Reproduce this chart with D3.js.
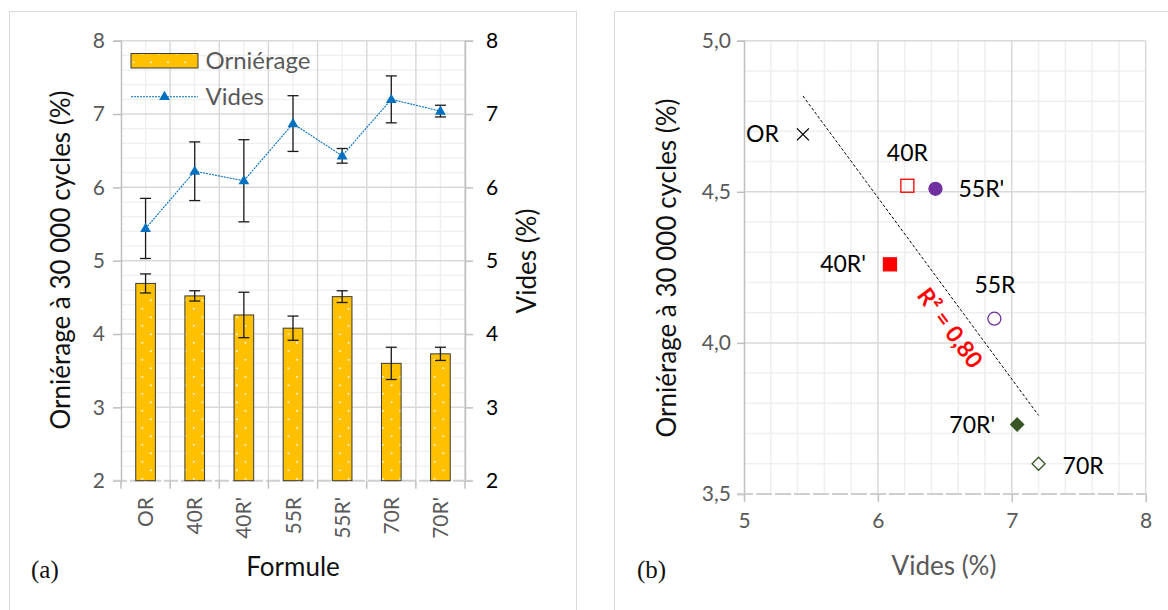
<!DOCTYPE html>
<html><head><meta charset="utf-8">
<script src="https://cdn.jsdelivr.net/npm/d3@7"></script>
<style>body{margin:0;background:#fff;}svg{display:block;font-family:Lato,'Open Sans',sans-serif;}</style>
</head><body>
<svg id="c" width="1168" height="610"></svg>
<script>
// ---------- data ----------
const categories = ["OR","40R","40R'","55R","55R'","70R","70R'"];
const ornierage  = [4.69, 4.52, 4.26, 4.08, 4.51, 3.60, 3.73];
const ornErr     = [0.13, 0.07, 0.31, 0.165, 0.08, 0.22, 0.09];
const vides      = [5.44, 6.22, 6.09, 6.87, 6.43, 7.20, 7.04];
const videsErr   = [0.41, 0.40, 0.56, 0.38, 0.10, 0.32, 0.08];
const leftTicks  = [2,3,4,5,6,7,8];
const scatTicksX = [5,6,7,8];
const scatTicksY = [3.5,4.0,4.5,5.0];
const r2Label    = "R² = 0,80";

// ---------- layout/style config ----------
const svg = d3.select("#c");
const GRID_MAJ = "#d9d9d9", GRID_MIN = "#efefef", AX = "#bfbfbf", GRAY = "#595959";
const TICK_FS = "21px", TITLE_FS = "26px";

// panel frames
svg.append("rect").attr("x",9.5).attr("y",11.5).attr("width",567).attr("height",620)
  .attr("fill","none").attr("stroke",GRID_MAJ).attr("stroke-width",1);
svg.append("rect").attr("x",614.5).attr("y",11.5).attr("width",600).attr("height",620)
  .attr("fill","none").attr("stroke",GRID_MAJ).attr("stroke-width",1);

// pattern
const defs = svg.append("defs");
const pat = defs.append("pattern").attr("id","dots").attr("patternUnits","userSpaceOnUse")
  .attr("width",17.2).attr("height",17);
pat.append("rect").attr("width",17.2).attr("height",17).attr("fill","#FFC000");
pat.append("rect").attr("x",3.8).attr("y",2).attr("width",1.6).attr("height",1.6).attr("fill","#fff");
pat.append("rect").attr("x",12.4).attr("y",10.5).attr("width",1.6).attr("height",1.6).attr("fill","#fff");

// ================= LEFT CHART =================
const x = d3.scaleBand().domain(categories).range([121,465]).paddingInner(0).paddingOuter(0);
const yL = d3.scaleLinear().domain([2,8]).range([480.7,40.7]);
const yR = d3.scaleLinear().domain([2,8]).range([480.7,40.7]);
const g1 = svg.append("g");

g1.append("g").selectAll("line").data(d3.range(2,8.001,0.2).filter(v=>Math.abs(v-Math.round(v))>1e-6))
  .join("line").attr("x1",121).attr("x2",465).attr("y1",d=>yL(d)).attr("y2",d=>yL(d))
  .attr("stroke",GRID_MIN).attr("stroke-width",1.3);
g1.append("g").selectAll("line").data(categories).join("line")
  .attr("x1",d=>x(d)+x.bandwidth()/2).attr("x2",d=>x(d)+x.bandwidth()/2)
  .attr("y1",yL(8)).attr("y2",yL(2)).attr("stroke",GRID_MIN).attr("stroke-width",1.3);
g1.append("g").selectAll("line").data(leftTicks.slice(1)).join("line")
  .attr("x1",121).attr("x2",465).attr("y1",d=>yL(d)).attr("y2",d=>yL(d))
  .attr("stroke",GRID_MAJ).attr("stroke-width",1.5);
const bounds = categories.map(c=>x(c)).concat([x.range()[1]]);
g1.append("g").selectAll("line").data(bounds.slice(1)).join("line")
  .attr("x1",d=>d).attr("x2",d=>d).attr("y1",yL(8)).attr("y2",yL(2))
  .attr("stroke",GRID_MAJ).attr("stroke-width",1.5);

const axL = g1.append("g").attr("transform","translate(121,0)")
  .call(d3.axisLeft(yL).tickValues(leftTicks).tickSize(8).tickPadding(8).tickFormat(d3.format("d")));
axL.select(".domain").attr("stroke",AX).attr("stroke-width",1.5);
axL.selectAll(".tick line").attr("stroke",AX).attr("stroke-width",1.5);
axL.selectAll("text").attr("fill",GRAY).style("font-size",TICK_FS).style("font-family","Lato");
const axR = g1.append("g").attr("transform","translate(465,0)")
  .call(d3.axisRight(yR).tickValues(leftTicks).tickSize(8).tickPadding(13).tickFormat(d3.format("d")));
axR.select(".domain").attr("stroke",AX).attr("stroke-width",1.5);
axR.selectAll(".tick line").attr("stroke",AX).attr("stroke-width",1.5);
axR.selectAll("text").attr("fill","#000").style("font-size",TICK_FS).style("font-family","Lato");

g1.append("line").attr("x1",113).attr("x2",473).attr("y1",yL(2)).attr("y2",yL(2))
  .attr("stroke","#cfcfcf").attr("stroke-width",2).attr("stroke-dasharray","14,3");
g1.append("g").selectAll("line").data(bounds).join("line")
  .attr("x1",d=>d).attr("x2",d=>d).attr("y1",yL(2)).attr("y2",yL(2)+8)
  .attr("stroke",AX).attr("stroke-width",1.5);
g1.append("g").selectAll("text").data(categories).join("text")
  .attr("transform",d=>`translate(${x(d)+x.bandwidth()/2},497) rotate(-90)`)
  .attr("text-anchor","end").attr("dy","0.36em").attr("fill",GRAY)
  .style("font-size",TICK_FS).text(d=>d);

const bw = x.bandwidth()*0.4;
g1.append("g").selectAll("rect").data(categories).join("rect")
  .attr("x",d=>x(d)+x.bandwidth()/2-bw/2).attr("width",bw)
  .attr("y",(d,i)=>yL(ornierage[i])).attr("height",(d,i)=>yL(2)-yL(ornierage[i]))
  .attr("fill","url(#dots)").attr("stroke","#3a3a3a").attr("stroke-width",1);
function errBars(g, vals, errs, yS){
  const cap = 5.5;
  const eg = g.append("g").attr("stroke","#1a1a1a").attr("stroke-width",1.3);
  categories.forEach((c,i)=>{
    const cx = x(c)+x.bandwidth()/2;
    eg.append("line").attr("x1",cx).attr("x2",cx).attr("y1",yS(vals[i]+errs[i])).attr("y2",yS(vals[i]-errs[i]));
    eg.append("line").attr("x1",cx-cap).attr("x2",cx+cap).attr("y1",yS(vals[i]+errs[i])).attr("y2",yS(vals[i]+errs[i]));
    eg.append("line").attr("x1",cx-cap).attr("x2",cx+cap).attr("y1",yS(vals[i]-errs[i])).attr("y2",yS(vals[i]-errs[i]));
  });
}
errBars(g1, ornierage, ornErr, yL);
errBars(g1, vides, videsErr, yR);

const lineGen = d3.line().x((d,i)=>x(categories[i])+x.bandwidth()/2).y(d=>yR(d));
g1.append("path").datum(vides).attr("d",lineGen).attr("fill","none")
  .attr("stroke","#0070C0").attr("stroke-width",1.1).attr("stroke-dasharray","2,1");
const tri = d3.symbol().type(d3.symbolTriangle).size(50);
g1.append("g").selectAll("path").data(vides).join("path")
  .attr("transform",(d,i)=>`translate(${x(categories[i])+x.bandwidth()/2},${yR(d)+0.5})`)
  .attr("d",tri).attr("fill","#0070C0");

// legend
g1.append("rect").attr("x",131).attr("y",53.5).attr("width",67).attr("height",14.5)
  .attr("fill","url(#dots)").attr("stroke","#3a3a3a").attr("stroke-width",1);
g1.append("text").attr("x",205.5).attr("y",68.5).attr("fill",GRAY).style("font-size","24px").text("Orniérage");
g1.append("line").attr("x1",131).attr("x2",198).attr("y1",96.7).attr("y2",96.7)
  .attr("stroke","#0070C0").attr("stroke-width",1.1).attr("stroke-dasharray","2,1");
g1.append("path").attr("transform","translate(164.5,97)").attr("d",tri).attr("fill","#0070C0");
g1.append("text").attr("x",205.5).attr("y",105).attr("fill",GRAY).style("font-size","24px").text("Vides");

// titles
g1.append("text").attr("transform","translate(61,260) rotate(-90)").attr("text-anchor","middle")
  .attr("dy","0.35em").attr("fill","#111").style("font-size",TITLE_FS).text("Orniérage à 30 000 cycles (%)");
g1.append("text").attr("transform","translate(527,261) rotate(-90)").attr("text-anchor","middle")
  .attr("dy","0.35em").attr("fill","#111").style("font-size",TITLE_FS).text("Vides (%)");
g1.append("text").attr("x",293).attr("y",576).attr("text-anchor","middle").attr("fill","#111")
  .style("font-size",TITLE_FS).text("Formule");
g1.append("text").attr("x",31).attr("y",578).attr("fill","#111")
  .style("font-family","'Liberation Serif',serif").style("font-size","25px").text("(a)");

// ================= RIGHT CHART =================
const xs = d3.scaleLinear().domain([5,8]).range([744,1145.7]);
const ys = d3.scaleLinear().domain([3.5,5]).range([494,40.7]);
const g2 = svg.append("g");
const minorX = d3.range(5,8.001,0.2).map(v=>+v.toFixed(2)).filter(v=>Math.abs(v-Math.round(v))>1e-6);
const minorY = d3.range(3.5,5.001,0.1).map(v=>+v.toFixed(2)).filter(v=>Math.abs(v*2-Math.round(v*2))>1e-6);
g2.append("g").selectAll("line").data(minorY).join("line")
  .attr("x1",xs(5)).attr("x2",xs(8)).attr("y1",d=>ys(d)).attr("y2",d=>ys(d))
  .attr("stroke",GRID_MIN).attr("stroke-width",1.5);
g2.append("g").selectAll("line").data(minorX).join("line")
  .attr("x1",d=>xs(d)).attr("x2",d=>xs(d)).attr("y1",ys(5)).attr("y2",ys(3.5))
  .attr("stroke",GRID_MIN).attr("stroke-width",1.5);
g2.append("g").selectAll("line").data(scatTicksY.slice(1)).join("line")
  .attr("x1",xs(5)).attr("x2",xs(8)).attr("y1",d=>ys(d)).attr("y2",d=>ys(d))
  .attr("stroke",GRID_MAJ).attr("stroke-width",1.5);
g2.append("g").selectAll("line").data(scatTicksX.slice(1)).join("line")
  .attr("x1",d=>xs(d)).attr("x2",d=>xs(d)).attr("y1",ys(5)).attr("y2",ys(3.5))
  .attr("stroke",GRID_MAJ).attr("stroke-width",1.5);

const axYs = g2.append("g").attr("transform",`translate(${xs(5)},0)`)
  .call(d3.axisLeft(ys).tickValues(scatTicksY).tickSize(7).tickPadding(6)
    .tickFormat(d=>d3.format(".1f")(d).replace(".",",")));
axYs.select(".domain").attr("stroke",AX).attr("stroke-width",1.5);
axYs.selectAll(".tick line").attr("stroke",AX).attr("stroke-width",1.5);
axYs.selectAll("text").attr("fill",GRAY).style("font-size",TICK_FS).style("font-family","Lato");

g2.append("line").attr("x1",xs(5)-7).attr("x2",xs(8)).attr("y1",ys(3.5)).attr("y2",ys(3.5))
  .attr("stroke","#cfcfcf").attr("stroke-width",2).attr("stroke-dasharray","16,3");
const axXs = g2.append("g").attr("transform",`translate(0,${ys(3.5)})`)
  .call(d3.axisBottom(xs).tickValues(scatTicksX).tickSize(8).tickPadding(11).tickFormat(d3.format("d")));
axXs.select(".domain").remove();
axXs.selectAll(".tick line").attr("stroke",AX).attr("stroke-width",1.5);
axXs.selectAll("text").attr("fill",GRAY).style("font-size",TICK_FS).style("font-family","Lato");

// trend line (least squares on data)
const mx = d3.mean(vides), my = d3.mean(ornierage);
const sxy = d3.sum(vides.map((v,i)=>(v-mx)*(ornierage[i]-my)));
const sxx = d3.sum(vides.map(v=>(v-mx)**2));
const slope = sxy/sxx, icpt = my - slope*mx;
const [xmin,xmax] = d3.extent(vides);
g2.append("line").attr("x1",xs(xmin)).attr("y1",ys(icpt+slope*xmin))
  .attr("x2",xs(xmax)).attr("y2",ys(icpt+slope*xmax))
  .attr("stroke","#000").attr("stroke-width",1).attr("stroke-dasharray","3,2");
const ang = Math.atan2(ys(icpt+slope*xmax)-ys(icpt+slope*xmin), xs(xmax)-xs(xmin))*180/Math.PI;
g2.append("text").attr("transform",`translate(950,328) rotate(${ang})`).attr("text-anchor","middle")
  .attr("dy","0.35em").attr("fill","#FF0000").style("font-weight","bold").style("font-size","23px").text(r2Label);

// markers
const markerStyle = {
  "OR":   {type:"cross"},
  "40R":  {type:"square", fill:"none", stroke:"#FF0000"},
  "40R'": {type:"square", fill:"#FF0000", stroke:"#FF0000"},
  "55R":  {type:"circle", fill:"none", stroke:"#7030A0"},
  "55R'": {type:"circle", fill:"#7030A0", stroke:"#7030A0"},
  "70R":  {type:"diamond", fill:"none", stroke:"#375623"},
  "70R'": {type:"diamond", fill:"#375623", stroke:"#375623"}
};
const labelPos = {
  "OR":[-24,8,"end"], "40R":[0,-25,"middle"], "55R'":[23,8,"start"], "40R'":[-24,8,"end"],
  "55R":[-20,-26,"start"], "70R'":[-22,9,"end"], "70R":[24,10,"start"]
};
categories.forEach((c,i)=>{
  const px = xs(vides[i]), py = ys(ornierage[i]);
  const s = markerStyle[c];
  const mg = g2.append("g").attr("transform",`translate(${px},${py})`);
  if (s.type==="cross"){
    mg.append("path").attr("d","M-6,-6L6,6M-6,6L6,-6").attr("stroke","#000").attr("stroke-width",1.3);
  } else if (s.type==="square"){
    mg.append("rect").attr("x",-6.5).attr("y",-6.5).attr("width",13).attr("height",13)
      .attr("fill",s.fill).attr("stroke",s.stroke).attr("stroke-width",1.3);
  } else if (s.type==="circle"){
    mg.append("circle").attr("r",6.5).attr("fill",s.fill).attr("stroke",s.stroke).attr("stroke-width",1.3);
  } else {
    mg.append("path").attr("d","M0,-6.5L6.5,0L0,6.5L-6.5,0Z").attr("fill",s.fill)
      .attr("stroke",s.stroke).attr("stroke-width",1.3);
  }
  const lp = labelPos[c];
  g2.append("text").attr("x",px+lp[0]).attr("y",py+lp[1]).attr("text-anchor",lp[2])
    .attr("fill","#000").style("font-size","23px").text(c);
});

// titles
g2.append("text").attr("transform","translate(667,268) rotate(-90)").attr("text-anchor","middle")
  .attr("dy","0.35em").attr("fill","#111").style("font-size",TITLE_FS).text("Orniérage à 30 000 cycles (%)");
g2.append("text").attr("x",944).attr("y",575).attr("text-anchor","middle").attr("fill",GRAY)
  .style("font-size",TITLE_FS).text("Vides (%)");
g2.append("text").attr("x",637).attr("y",578).attr("fill","#111")
  .style("font-family","'Liberation Serif',serif").style("font-size","25px").text("(b)");
</script>
</body></html>
